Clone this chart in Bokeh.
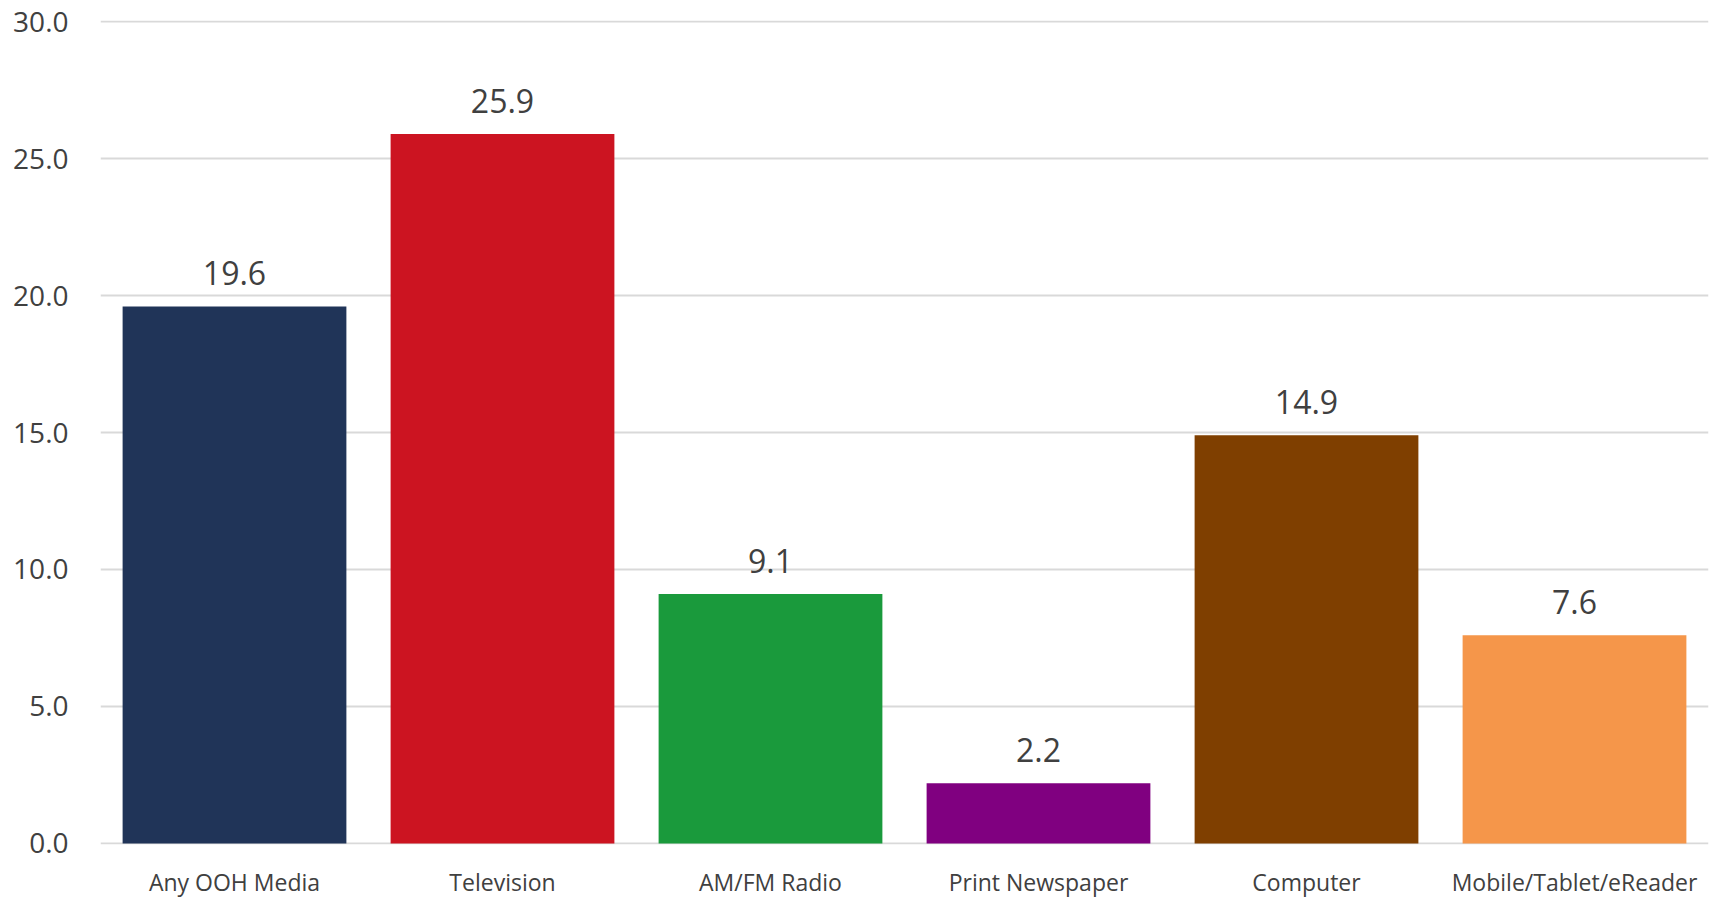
from bokeh.plotting import figure
from bokeh.models import ColumnDataSource, FactorRange, Range1d, FixedTicker, NumeralTickFormatter
from bokeh.core.properties import value
from bokeh.embed import file_html
from bokeh.resources import INLINE

# Time spent per medium
categories = ["Any OOH Media", "Television", "AM/FM Radio", "Print Newspaper", "Computer", "Mobile/Tablet/eReader"]
values = [19.6, 25.9, 9.1, 2.2, 14.9, 7.6]
colors = ["#203458", "#CC1421", "#1A9A3C", "#800080", "#7F3F00", "#F5964A"]
y_ticks = [0, 5, 10, 15, 20, 25, 30]

FONT = "Open Sans"
TEXT_COLOR = "#404040"

source = ColumnDataSource(dict(
    cat=categories,
    val=values,
    color=colors,
    label=[f"{v:.1f}" for v in values],
))

p = figure(
    width=1714, height=900,
    x_range=FactorRange(*categories, range_padding=0),
    # tiny pad so the 0 and 30 gridlines are not clipped at the frame edges
    y_range=Range1d(-0.04, 30.04),
    output_backend="svg", toolbar_location=None,
    min_border_left=100, min_border_right=6, min_border_top=20, min_border_bottom=55,
)
p.outline_line_color = None
p.background_fill_color = "white"
p.border_fill_color = "white"

p.vbar(x="cat", bottom=0, top="val", width=0.835, fill_color="color", line_color=None, source=source)

p.text(x="cat", y="val", text="label", source=source,
       text_align="center", text_baseline="alphabetic", y_offset=-33,
       text_font=value(FONT), text_font_size="32px", text_color=TEXT_COLOR)

# Axes
p.xgrid.grid_line_color = None
p.ygrid.grid_line_color = "#D9D9D9"
p.ygrid.grid_line_width = 2
p.ygrid.level = "underlay"

p.yaxis.ticker = FixedTicker(ticks=y_ticks)
p.yaxis.formatter = NumeralTickFormatter(format="0.0")
for ax in (p.xaxis[0], p.yaxis[0]):
    ax.axis_line_color = None
    ax.major_tick_line_color = None
    ax.minor_tick_line_color = None
    ax.major_label_text_font = FONT
    ax.major_label_text_color = TEXT_COLOR

p.yaxis.major_label_text_font_size = "28px"
p.yaxis.major_label_standoff = 26
p.xaxis.major_label_text_font_size = "23px"
p.xaxis.major_label_standoff = 15

open("out.html", "w").write(file_html(p, INLINE))
